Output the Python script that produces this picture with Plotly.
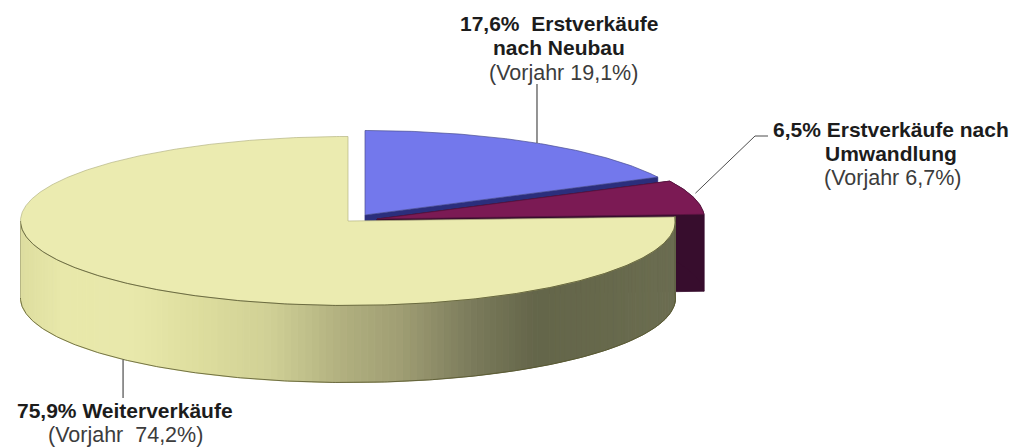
import math
import numpy as np
import plotly.graph_objects as go

# --- data ---
categories = ["Erstverkäufe nach Neubau", "Erstverkäufe nach Umwandlung", "Weiterverkäufe"]
shares = [17.6, 6.5, 75.9]
previous_year = [19.1, 6.7, 74.2]

label_lines = [
    ["17,6%  Erstverkäufe", "nach Neubau"],
    ["6,5% Erstverkäufe nach", "Umwandlung"],
    ["75,9% Weiterverkäufe"],
]
previous_labels = ["(Vorjahr 19,1%)", "(Vorjahr 6,7%)", "(Vorjahr  74,2%)"]

# --- styling / pie geometry (pixels of the drawing area) ---
W, H = 1022, 448
RX, RY, DEPTH = 327.5, 84.5, 77
centers = [(365, 215), (377, 219), (348, 221)]
top_colors = ["#7378ec", "#7b1a54", "#ebebb0"]
side_colors = ["#2b2e7c", "#370d2d", None]
edge_colors = ["#4a4f90", "#5a1440", "#b4b484"]
FONT = "Liberation Sans, Arial, sans-serif"

grad_x = [21, 60, 130, 200, 270, 340, 400, 470, 535, 600, 676]
grad_r = [222, 232, 233, 222, 208, 178, 160, 124, 100, 103, 108]
grad_g = [222, 232, 233, 222, 208, 177, 158, 124, 102, 105, 110]
grad_b = [160, 170, 172, 158, 150, 128, 116, 92, 74, 76, 82]

# cumulative clockwise angles from 12 o'clock
edges = np.cumsum([0] + shares) * 3.6


def pt(c, deg, dy=0.0):
    t = np.radians(deg)
    return c[0] + RX * np.sin(t), c[1] - RY * np.cos(t) + dy


def arc(c, a, b, dy=0.0):
    n = max(2, int(abs(b - a) * 2))
    return pt(c, np.linspace(a, b, n), dy)


fig = go.Figure()


def poly(x, y, fill, line=None, width=0.8):
    fig.add_trace(go.Scatter(
        x=list(x), y=list(y), mode="lines", fill="toself", fillcolor=fill,
        line=dict(color=line or fill, width=width), hoverinfo="skip", showlegend=False))


def stroke(x, y, color, width=1.0):
    fig.add_trace(go.Scatter(
        x=list(x), y=list(y), mode="lines", line=dict(color=color, width=width),
        hoverinfo="skip", showlegend=False))


def wedge_top(i):
    c = centers[i]
    ax, ay = arc(c, edges[i], edges[i + 1])
    poly([c[0], *ax, c[0]], [c[1], *ay, c[1]], top_colors[i], edge_colors[i], 0.7)


def radial_face(i, deg):
    c = centers[i]
    ex, ey = pt(c, deg)
    poly([c[0], ex, ex, c[0], c[0]],
         [c[1], ey, ey + DEPTH, c[1] + DEPTH, c[1]], side_colors[i])


# blue slice
radial_face(0, edges[1])
wedge_top(0)

# purple slice: cut face plus outer wall
radial_face(1, edges[1])
ax, ay = arc(centers[1], edges[1], edges[2])
radial_face(1, edges[2])
poly([*ax, *ax[::-1]], [*ay, *(ay[::-1] + DEPTH)], side_colors[1])
wedge_top(1)

# yellow slice: shaded wall drawn as narrow strips, then the top face
c = centers[2]
steps = np.linspace(edges[2], 270, 150)
for a, b in zip(steps[:-1], steps[1:]):
    xa, ya = pt(c, a)
    xb, yb = pt(c, b)
    xm = (xa + xb) / 2
    col = "rgb(%d,%d,%d)" % (np.interp(xm, grad_x, grad_r),
                             np.interp(xm, grad_x, grad_g),
                             np.interp(xm, grad_x, grad_b))
    poly([xa, xb, xb, xa, xa], [ya, yb, yb + DEPTH, ya + DEPTH, ya], col, col, 1)
ax, ay = arc(c, edges[2], 270)
stroke(ax, ay + DEPTH, "#55552c", 0.8)
wedge_top(2)
stroke(ax, ay, "#55552c", 0.8)
bx, by = pt(c, 270)
stroke([bx, bx], [by, by + DEPTH], "#a5a578", 0.7)
ex, ey = pt(c, edges[2])
stroke([ex, ex], [ey, ey + DEPTH], "#55553a", 0.7)

# leader lines, anchored on each slice's middle angle
mids = [(edges[i] + edges[i + 1]) / 2 for i in range(3)]
LEADER = "#4d4d4d"
x0, y0 = pt(centers[0], mids[0])
stroke([x0, x0], [y0, 84], LEADER, 1.2)
x1, y1 = pt(centers[1], mids[1])
stroke([x1 + 2, 755, 768], [y1 - 4, 136, 136], LEADER, 1.0)
x2, y2 = pt(centers[2], mids[2], DEPTH)
stroke([x2, x2], [y2, 398], LEADER, 1.2)

# text
blocks = [(559, [24, 48], 73, 563), (891, [130, 154], 178, 892), (124.5, [411], 435, 125)]


def text(x, y, s, bold):
    fig.add_annotation(
        x=x, y=y - 0.5, xref="x", yref="y", text=f"<b>{s}</b>" if bold else s, showarrow=False,
        xanchor="center", yanchor="middle",
        font=dict(family=FONT, size=21 if bold else 21.5, color="#1c1c1c" if bold else "#3c3c3c"))


for (tx, ys, yp, px), lines, prev in zip(blocks, label_lines, previous_labels):
    for yy, s in zip(ys, lines):
        text(tx, yy, s, True)
    text(px, yp, prev, False)

fig.update_layout(
    width=W, height=H, margin=dict(l=0, r=0, t=0, b=0),
    paper_bgcolor="white", plot_bgcolor="white", showlegend=False,
    xaxis=dict(range=[0, W], visible=False, fixedrange=True),
    yaxis=dict(range=[H, 0], visible=False, fixedrange=True),
)
fig.write_html("out.html", post_script="document.body.style.margin='0';",
               config={"displayModeBar": False})
